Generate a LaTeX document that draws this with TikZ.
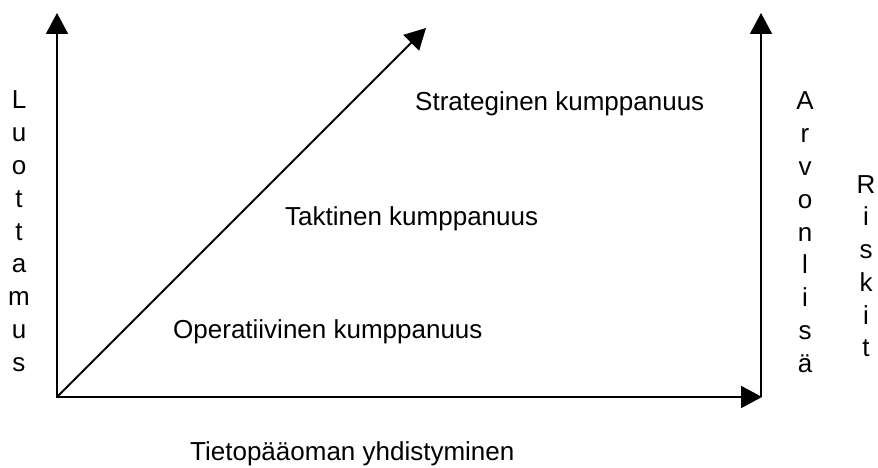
\documentclass[tikz,border=0pt]{standalone}
\usepackage{fontspec}
\setmainfont{Liberation Sans}
\usetikzlibrary{arrows.meta}
\begin{document}
\begin{tikzpicture}[x=1pt,y=-1pt,
  axis/.style={line width=2pt,-{Triangle[length=21pt,width=22pt]}},
  lbl/.style={font=\fontsize{26}{30}\selectfont,inner sep=0pt,anchor=base west},
  letter/.style={font=\fontsize{26}{30}\selectfont,inner sep=0pt,anchor=base}]
\useasboundingbox (0,0) rectangle (878,468);
\fill[white] (0,0) rectangle (878,468);
\coordinate (O) at (57,397);
\coordinate (T1) at (57,13);
\coordinate (T2) at (761,13);
\coordinate (B2) at (761,397);
\coordinate (TR) at (762,397);
\coordinate (D) at (426,28);
\draw[line width=2pt,{Triangle[length=21pt,width=22pt]}-{Triangle[length=21pt,width=22pt]}] (T1) -- (O) -- (TR);
\draw[axis] (B2) -- (T2);
\draw[axis] (O) -- (D);
\node[lbl] (strat) at (415,111) {Strateginen kumppanuus};
\node[lbl] (takt) at (285,225) {Taktinen kumppanuus};
\node[lbl] (oper) at (173,338) {Operatiivinen kumppanuus};
\node[lbl] (xlab) at (190,460) {Tietopääoman yhdistyminen};
\foreach \c [count=\i from 0] in {L,u,o,t,t,a,m,u,s}
  {\node[letter] (luo\i) at (19,{109+\i*32.75}) {\c};}
\foreach \c [count=\i from 0] in {A,r,v,o,n,l,i,s,ä}
  {\node[letter] (arv\i) at (805,{110+\i*32.75}) {\c};}
\foreach \c [count=\i from 0] in {R,i,s,k,i,t}
  {\node[letter] (ris\i) at (866,{193+\i*32.75}) {\c};}
\end{tikzpicture}
\end{document}
